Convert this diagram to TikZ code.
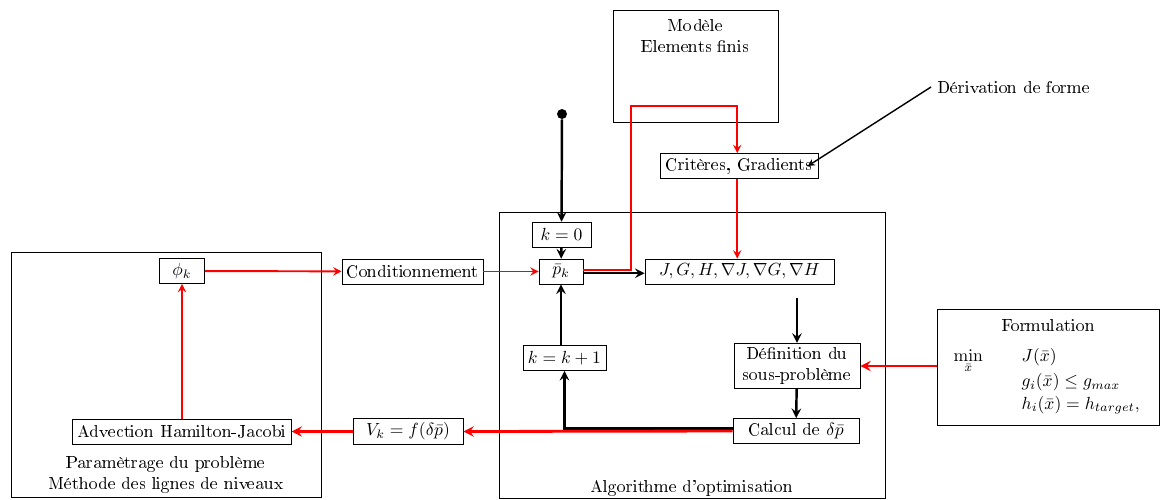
\documentclass[tikz,border=0pt]{standalone}
\usepackage[T1]{fontenc}
\usepackage{amsmath}
\begin{document}
\begin{tikzpicture}[>=stealth, every node/.style={font=\normalsize},
  bloc/.style={draw, rectangle, inner sep=2.5pt, minimum height=0.5cm},
  cadre/.style={draw, rectangle, inner sep=0pt},
  noir/.style={->, line width=1.4pt},
  rouge/.style={->, red, line width=1.1pt},
  rougefort/.style={->, red, line width=1.6pt}]
\useasboundingbox (0,0) rectangle (23.2,-9.98);
% cadres
\node[cadre, minimum width=6.2cm, minimum height=4.9cm] (param) at (3.32,-7.49) {};
\node[cadre, minimum width=7.72cm, minimum height=5.72cm] (algo) at (13.84,-7.1) {};
\node[cadre, minimum width=3.3cm, minimum height=2.24cm] (modele) at (13.91,-1.32) {};
\node[cadre, minimum width=4.44cm, minimum height=2.32cm] (form) at (20.96,-7.34) {};
\node[align=center] (paramtxt) at (3.32,-9.49) {Param\`etrage du probl\`eme\\M\'ethode des lignes de niveaux};
\node (algotxt) at (13.84,-9.76) {Algorithme d'optimisation};
\node[align=center] (modeletxt) at (13.91,-0.71) {Mod\`ele\\Elements finis};
\node (formtxt) at (20.96,-6.5) {Formulation};
\node[anchor=west] (formpb) at (18.95,-7.62) {$\begin{array}{@{}l@{\hspace{22pt}}l@{}}
  \displaystyle\min_{\bar{x}} & J(\bar{x}) \\[-1pt]
  & g_i(\bar{x}) \leq g_{max} \\[1pt]
  & h_i(\bar{x}) = h_{target},
  \end{array}$};
% blocs
\node[bloc, minimum width=0.9cm] (phi) at (3.64,-5.42) {$\phi_k$};
\node[bloc] (adv) at (3.64,-8.63) {Advection Hamilton-Jacobi};
\node[bloc] (cond) at (8.25,-5.43) {Conditionnement};
\node[bloc, minimum width=2.2cm] (vk) at (8.16,-8.63) {$V_k = f(\delta\bar{p})$};
\node[circle, fill, inner sep=0pt, minimum size=0.2cm] (depart) at (11.24,-2.28) {};
\node[bloc, minimum width=1.18cm] (kzero) at (11.23,-4.69) {$k=0$};
\node[bloc, minimum width=0.88cm] (pk) at (11.22,-5.43) {$\bar{p}_k$};
\node[bloc, minimum width=3.78cm] (jgh) at (14.79,-5.43) {$J,G,H,\nabla J,\nabla G,\nabla H$};
\node[bloc, minimum width=1.66cm] (kplus) at (11.29,-7.16) {$k=k+1$};
\node[bloc, align=center, minimum width=2.52cm] (defi) at (15.94,-7.32) {D\'efinition du\\sous-probl\`eme};
\node[bloc, minimum width=2.52cm] (calc) at (15.92,-8.62) {Calcul de $\delta\bar{p}$};
\node[bloc, minimum width=3.16cm] (crit) at (14.78,-3.32) {Crit\`eres, Gradients};
\node[anchor=west] (deriv) at (18.62,-1.74) {D\'erivation de forme};
\coordinate (coude) at (12.62,-2.12);
% liaisons noires
\draw[noir] (depart) -- (kzero);
\draw[noir] (kzero) -- (pk);
\draw[noir] ([yshift=-1pt]pk.east) -- ([yshift=-1pt]jgh.west);
\draw[noir] ([yshift=-8pt]defi.north |- jgh.south) -- (defi.north);
\draw[noir] (defi) -- (calc);
\draw[noir] ([yshift=1.5pt]calc.west) -| (kplus.south);
\draw[noir] (pk.south |- kplus.north) -- (pk.south);
\draw[->, thick] (deriv.west) -- ([xshift=-6pt]crit.east);
% liaisons rouges
\draw[rouge] ([yshift=1pt]pk.east) -| (coude) -| ([xshift=-1pt]crit.north);
\draw[rouge] ([xshift=-1pt]crit.south) -- ([xshift=-1pt]crit.south |- jgh.north);
\draw[rouge] (phi) -- (cond);
\draw[rouge] (cond) -- (pk);
\draw[rouge] (adv) -- (phi);
\draw[rougefort] (calc.west) -- (vk.east);
\draw[rougefort] (vk) -- (adv);
\draw[rougefort] (form.west |- defi.east) -- (defi.east);
\end{tikzpicture}
\end{document}
